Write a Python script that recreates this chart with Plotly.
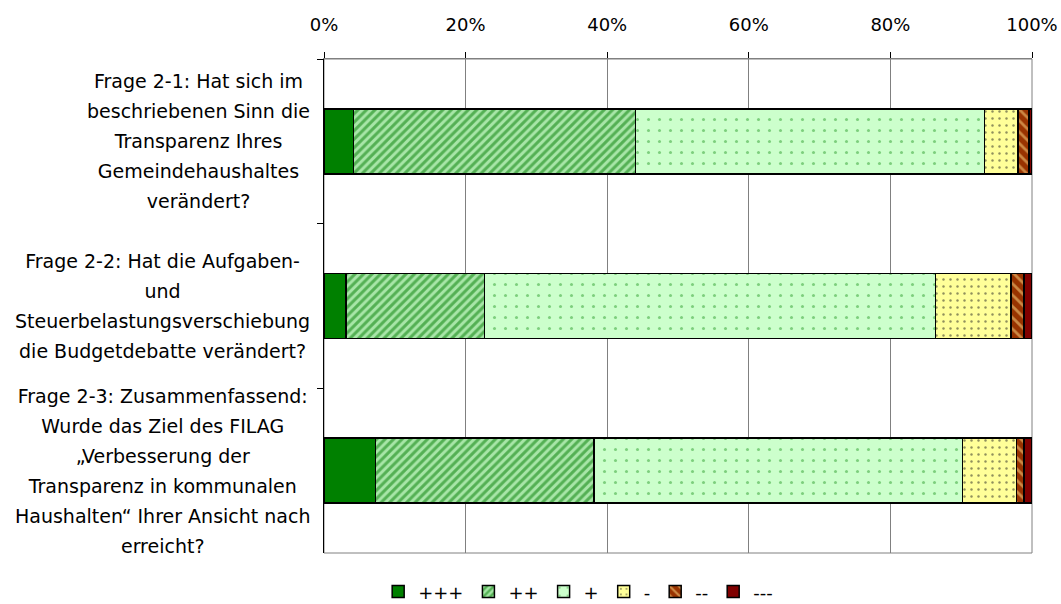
import plotly.graph_objects as go

# ---- data ----
questions = [
    ["Frage 2-1: Hat sich im", "beschriebenen Sinn die", "Transparenz Ihres",
     "Gemeindehaushaltes", "verändert?"],
    ["Frage 2-2: Hat die Aufgaben-", "und", "Steuerbelastungsverschiebung",
     "die Budgetdebatte verändert?"],
    ["Frage 2-3: Zusammenfassend:", "Wurde das Ziel des FILAG", "„Verbesserung der",
     "Transparenz in kommunalen", "Haushalten“ Ihrer Ansicht nach", "erreicht?"],
]
categories = ["Frage 2-1", "Frage 2-2", "Frage 2-3"]
series_names = ["+++", "++", "+", "-", "--", "---"]
v_ppp = [4.2, 3.1, 7.3]
v_pp = [39.8, 19.6, 30.8]
v_p = [49.3, 63.7, 52.1]
v_m = [4.7, 10.6, 7.6]
v_mm = [1.6, 1.9, 1.1]
v_mmm = [0.4, 1.1, 1.1]
series_values = [v_ppp, v_pp, v_p, v_m, v_mm, v_mmm]
x_tick_vals = [0, 0.2, 0.4, 0.6, 0.8, 1.0]
x_tick_text = ["0%", "20%", "40%", "60%", "80%", "100%"]

# ---- styles ----
styles = [
    dict(color="#008000", pattern=dict(shape="")),
    dict(color="#a8e6a8", pattern=dict(shape="/", fgcolor="#007a00", size=6, solidity=0.5)),
    dict(color="#ccffcc", pattern=dict(shape=".", fgcolor="#2e9e2e", size=11, solidity=0.06)),
    dict(color="#ffff99", pattern=dict(shape=".", fgcolor="#202020", size=7, solidity=0.1)),
    dict(color="#993300", pattern=dict(shape="\\", fgcolor="#ffdd88", size=8, solidity=0.35)),
    dict(color="#800000", pattern=dict(shape="")),
]

FONT = "DejaVu Sans"

fig = go.Figure()
for name, vals, st in zip(series_names, series_values, styles):
    fig.add_trace(go.Bar(
        y=categories,
        x=[v / 100 for v in vals],
        name=name,
        orientation="h",
        marker=dict(color=st["color"], pattern=st["pattern"],
                    line=dict(color="black", width=1.5)),
        hoverinfo="x+name",
    ))

# category labels (centered multi-line blocks, right aligned to axis)
for cat, lines in zip(categories, questions):
    txt = "<br>".join('<span style="font-size:19px">%s</span>' % l for l in lines)
    fig.add_annotation(
        x=0, xref="paper", y=cat, yref="y",
        xanchor="right", yanchor="middle", xshift=-12,
        text=txt, align="center", showarrow=False,
        font=dict(family=FONT, size=23, color="black"),
    )

# plot border (gray)
fig.add_shape(type="rect", xref="paper", yref="paper", x0=0, x1=1, y0=0, y1=1,
              line=dict(color="#808080", width=1), layer="below")

fig.update_layout(
    width=1061, height=604,
    barmode="stack",
    bargap=0.606,
    paper_bgcolor="white",
    plot_bgcolor="white",
    margin=dict(l=324, r=29, t=59, b=51, autoexpand=False),
    font=dict(family=FONT, size=18, color="black"),
    showlegend=True,
    legend=dict(orientation="h", x=0.359, xanchor="center",
                yref="container", y=0.02, yanchor="middle",
                font=dict(family=FONT, size=18, color="black"),
                traceorder="normal", itemclick=False, itemdoubleclick=False,
                bgcolor="rgba(0,0,0,0)"),
    xaxis=dict(
        side="top", range=[0, 1], tickvals=x_tick_vals, ticktext=x_tick_text,
        showgrid=True, gridcolor="#808080", gridwidth=1,
        showline=True, linecolor="#808080", linewidth=1,
        ticks="outside", ticklen=6, tickcolor="black",
        ticklabelstandoff=14, zeroline=False, automargin=False,
        tickfont=dict(family=FONT, size=18, color="black"),
        fixedrange=True,
    ),
    yaxis=dict(
        type="category", categoryorder="array", categoryarray=categories,
        range=[2.5, -0.5], showticklabels=False,
        showline=True, linecolor="black", linewidth=1,
        ticks="outside", ticklen=6, tickcolor="black", tickson="boundaries",
        showgrid=False, zeroline=False, fixedrange=True, automargin=False,
    ),
)

fig.write_html(
    "out.html",
    config={"displayModeBar": False},
    post_script="document.body.style.margin='0';document.body.style.padding='0';"
                "document.documentElement.style.margin='0';",
)
